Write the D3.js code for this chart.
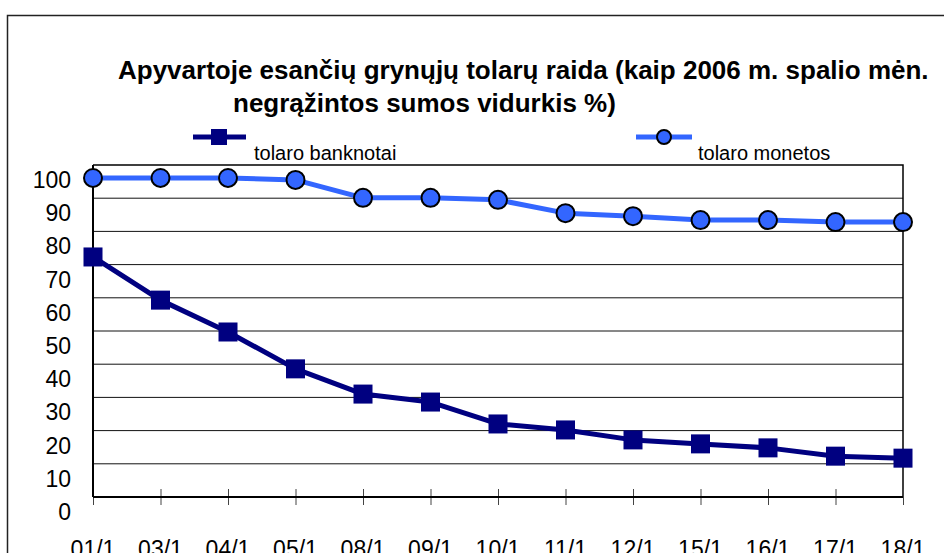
<!DOCTYPE html>
<html>
<head>
<meta charset="utf-8">
<script src="https://cdn.jsdelivr.net/npm/d3@7"></script>
<style>
  body { margin: 0; background: #fff; }
  svg { display: block; font-family: "Liberation Sans", Arial, sans-serif; }
</style>
</head>
<body>
<div id="chart"></div>
<script>
// Data
const categories = ["01/1", "03/1", "04/1", "05/1", "08/1", "09/1", "10/1", "11/1", "12/1", "15/1", "16/1", "17/1", "18/1"];
const banknotai = [72.3, 59.3, 49.7, 38.6, 31.0, 28.6, 22.0, 20.2, 17.2, 16.0, 14.8, 12.3, 11.7];
const monetos = [96.1, 96.1, 96.1, 95.5, 90.1, 90.1, 89.5, 85.5, 84.6, 83.4, 83.4, 82.8, 82.8];
const yTicks = [0, 10, 20, 30, 40, 50, 60, 70, 80, 90, 100];
const titleLines = ["Apyvartoje esančių grynųjų tolarų raida (kaip 2006 m. spalio mėn.", "negrąžintos sumos vidurkis %)"];
const seriesNames = ["tolaro banknotai", "tolaro monetos"];

const width = 944, height = 553;
const plot = { left: 93, right: 903, top: 165, bottom: 497 };

const svg = d3.select("#chart").append("svg").attr("width", width).attr("height", height);

// outer chart frame (runs past the right and bottom edges)
svg.append("rect")
    .attr("x", 7.5).attr("y", 15.5)
    .attr("width", 1000).attr("height", 600)
    .attr("fill", "none").attr("stroke", "#222").attr("stroke-width", 1.5);

const x = d3.scalePoint().domain(categories).range([plot.left, plot.right]);
const y = d3.scaleLinear().domain([0, 100]).range([plot.bottom, plot.top]);

// gridlines
svg.append("g").selectAll("line").data(yTicks.filter(d => d > 0 && d < 100)).enter().append("line")
    .attr("x1", plot.left).attr("x2", plot.right)
    .attr("y1", d => y(d)).attr("y2", d => y(d))
    .attr("stroke", "#111").attr("stroke-width", 1);

// plot frame top + right
svg.append("path")
    .attr("d", `M${plot.left},${y(100)}H${plot.right}V${plot.bottom}`)
    .attr("fill", "none").attr("stroke", "#000").attr("stroke-width", 1.5);

// x axis with crossing ticks
const xAxis = svg.append("g").attr("transform", `translate(0,${plot.bottom})`)
    .call(d3.axisBottom(x).tickSize(8).tickSizeOuter(0).tickFormat(""));
xAxis.select(".domain").remove();
xAxis.selectAll(".tick line").attr("y1", -8).attr("stroke", "#444");
svg.append("line")
    .attr("x1", plot.left).attr("x2", plot.right)
    .attr("y1", plot.bottom).attr("y2", plot.bottom)
    .attr("stroke", "#000").attr("stroke-width", 2);
svg.append("line")
    .attr("x1", plot.left).attr("x2", plot.left)
    .attr("y1", plot.top).attr("y2", plot.bottom)
    .attr("stroke", "#000").attr("stroke-width", 2);

// x labels (cut off by the bottom edge, as in the source)
svg.append("g").selectAll("text").data(categories).enter().append("text")
    .attr("x", d => x(d))
    .attr("y", 557)
    .attr("text-anchor", "middle")
    .style("font-size", "23px")
    .text(d => d);

// y labels (sit about half a step below their gridlines in the source)
svg.append("g").selectAll("text").data(yTicks).enter().append("text")
    .attr("x", 71)
    .attr("y", d => y(d) + 23)
    .attr("text-anchor", "end")
    .style("font-size", "23px")
    .text(d => d);

const line = d3.line().x((d, i) => x(categories[i])).y(d => y(d));

// banknotai
svg.append("path").datum(banknotai)
    .attr("d", line)
    .attr("fill", "none").attr("stroke", "#000080").attr("stroke-width", 5)
    .attr("stroke-linejoin", "round");
svg.append("g").selectAll("rect").data(banknotai).enter().append("rect")
    .attr("x", (d, i) => x(categories[i]) - 9.5)
    .attr("y", d => y(d) - 9.5)
    .attr("width", 19).attr("height", 19)
    .attr("fill", "#000080");

// monetos
svg.append("path").datum(monetos)
    .attr("d", line)
    .attr("fill", "none").attr("stroke", "#3366FF").attr("stroke-width", 5)
    .attr("stroke-linejoin", "round");
svg.append("g").selectAll("circle").data(monetos).enter().append("circle")
    .attr("cx", (d, i) => x(categories[i]))
    .attr("cy", d => y(d))
    .attr("r", 9)
    .attr("fill", "#3366FF").attr("stroke", "#000").attr("stroke-width", 2);

// title
svg.append("text")
    .attr("x", 118).attr("y", 79)
    .style("font-size", "26px").style("font-weight", "bold")
    .text(titleLines[0]);
svg.append("text")
    .attr("x", 233).attr("y", 112)
    .style("font-size", "26px").style("font-weight", "bold")
    .text(titleLines[1]);

// legend
const lg = svg.append("g");
lg.append("line").attr("x1", 193).attr("x2", 246).attr("y1", 137).attr("y2", 137)
    .attr("stroke", "#000080").attr("stroke-width", 5);
lg.append("rect").attr("x", 211).attr("y", 129).attr("width", 16).attr("height", 16).attr("fill", "#000080");
lg.append("text").attr("x", 254).attr("y", 160).style("font-size", "20px").text(seriesNames[0]);

lg.append("line").attr("x1", 636).attr("x2", 692).attr("y1", 137).attr("y2", 137)
    .attr("stroke", "#3366FF").attr("stroke-width", 5);
lg.append("circle").attr("cx", 664).attr("cy", 137).attr("r", 7)
    .attr("fill", "#3366FF").attr("stroke", "#000").attr("stroke-width", 2);
lg.append("text").attr("x", 698).attr("y", 160).style("font-size", "20px").text(seriesNames[1]);
</script>
</body>
</html>
